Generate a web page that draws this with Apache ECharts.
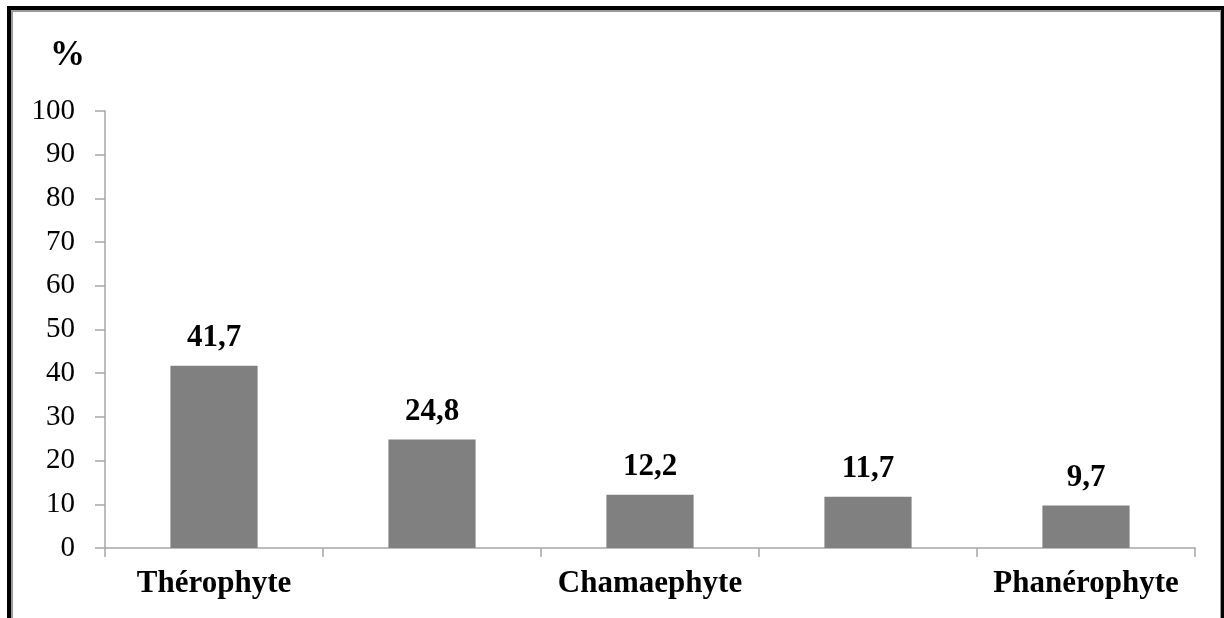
<!DOCTYPE html>
<html>
<head>
<meta charset="utf-8">
<script src="https://cdn.jsdelivr.net/npm/echarts@6/dist/echarts.min.js"></script>
<style>
html,body{margin:0;padding:0;background:#fff;}
#c{width:1224px;height:618px;}
</style>
</head>
<body>
<div id="c"></div>
<script>
const categories = ['Thérophyte', 'Hémicryptophyte', 'Chamaephyte', 'Géophyte', 'Phanérophyte'];
const values = [41.7, 24.8, 12.2, 11.7, 9.7];
const yTicks = [0, 10, 20, 30, 40, 50, 60, 70, 80, 90, 100];
const unitLabel = '%';

const serif = '"Liberation Serif","Times New Roman",serif';
const chart = echarts.init(document.getElementById('c'), null, {renderer: 'canvas'});
chart.setOption({
  animation: false,
  backgroundColor: '#fff',
  title: {
    text: unitLabel, left: 45, top: 33,
    textStyle: {fontFamily: serif, fontWeight: 'bold', fontSize: 35, color: '#000'}
  },
  graphic: [
    {type: 'rect', z: 100, silent: true, shape: {x: 12, y: 11, width: 1209, height: 700},
      style: {fill: null, stroke: '#9a9a9a', lineWidth: 2}},
    {type: 'rect', z: 101, silent: true, shape: {x: 9, y: 8, width: 1214, height: 700},
      style: {fill: null, stroke: '#000', lineWidth: 4}}
  ],
  grid: {left: 105, right: 29, top: 111, bottom: 70, containLabel: false},
  xAxis: {
    type: 'category', data: categories,
    axisLine: {lineStyle: {color: '#a6a6a6', width: 1.5}},
    axisTick: {show: true, interval: 0, length: 9, alignWithLabel: false, lineStyle: {color: '#a6a6a6', width: 1.5}},
    axisLabel: {interval: 1, margin: 20, fontFamily: serif, fontWeight: 'bold', fontSize: 31, color: '#000'}
  },
  yAxis: {
    type: 'value', min: yTicks[0], max: yTicks[yTicks.length - 1], interval: 10,
    splitLine: {show: false},
    axisLine: {show: true, lineStyle: {color: '#a6a6a6', width: 1.5}},
    axisTick: {show: true, length: 10, lineStyle: {color: '#a6a6a6', width: 1.5}},
    axisLabel: {margin: 30, fontFamily: serif, fontSize: 29, color: '#000'}
  },
  series: [{
    type: 'bar', data: values, barWidth: '40%',
    itemStyle: {color: '#808080'},
    label: {
      show: true, position: 'top', distance: 12,
      fontFamily: serif, fontWeight: 'bold', fontSize: 31, color: '#000',
      formatter: p => String(p.value).replace('.', ',')
    }
  }]
});
</script>
</body>
</html>
